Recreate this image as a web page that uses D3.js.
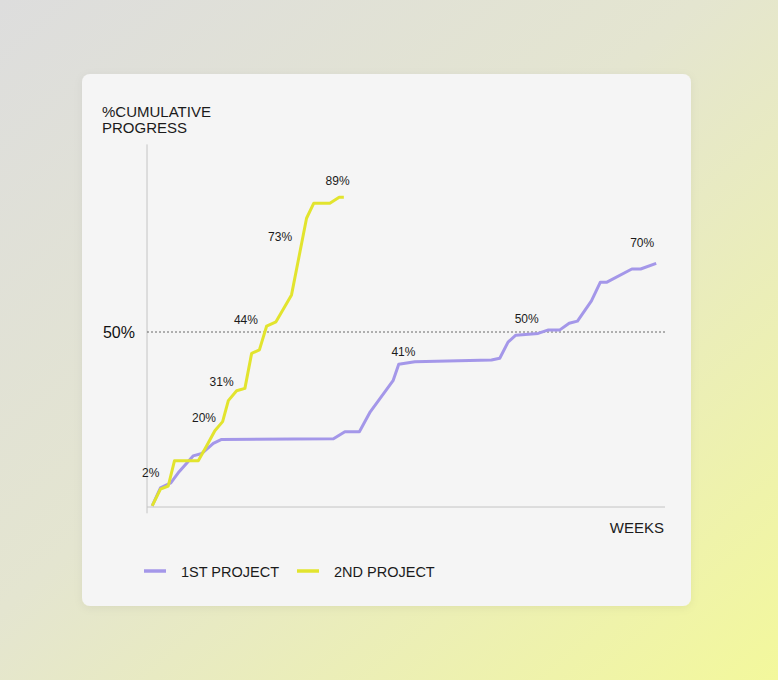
<!DOCTYPE html>
<html>
<head>
<meta charset="utf-8">
<script src="https://cdn.jsdelivr.net/npm/d3@7"></script>
<style>
  html, body { margin: 0; padding: 0; }
  body { width: 778px; height: 680px; overflow: hidden; font-family: "Liberation Sans", Arial, sans-serif; }
  text { fill: #1b1b1b; }
</style>
</head>
<body>
<div id="chart"></div>
<script>
// series: [week, cumulative %]
const project1 = [
  [1.0, 0.3], [2.6, 5.5], [4.6, 6.9], [6.2, 10.1], [8.9, 14.6], [10.6, 15.3],
  [12.8, 18.2], [14.4, 19.3], [36.0, 19.5], [38.2, 21.5], [41.0, 21.5],
  [43.1, 27.2], [47.5, 36.1], [48.6, 40.8], [51.7, 41.5], [66.5, 42.0],
  [68.1, 42.5], [69.7, 47.1], [71.2, 49.1], [75.5, 49.6], [77.5, 50.6],
  [79.7, 50.6], [81.5, 52.5], [83.1, 53.1], [85.8, 58.9], [87.5, 64.2],
  [88.7, 64.2], [93.6, 68.0], [95.3, 68.0], [98.3, 69.6]
];
const project2 = [
  [1.0, 0.3], [2.6, 5.1], [4.1, 6.0], [5.3, 13.2], [9.9, 13.2], [11.5, 17.4],
  [13.1, 21.8], [14.6, 24.4], [15.7, 30.4], [17.3, 33.2], [18.9, 33.9],
  [20.2, 43.9], [21.7, 44.9], [23.1, 51.7], [24.9, 52.9], [27.9, 60.6],
  [30.8, 82.5], [32.2, 86.8], [35.3, 86.8], [37.1, 88.5], [38.0, 88.5]
];
const seriesNames = ["1ST PROJECT", "2ND PROJECT"];
const seriesColors = ["#a497e9", "#e2e42e"];
// annotations: [week, %, text]
const labels1 = [[49.5, 43.1, "41%"], [73.3, 52.5, "50%"], [95.6, 74.2, "70%"]];
const labels2 = [[0.7, 8.6, "2%"], [11.0, 24.4, "20%"], [14.4, 34.7, "31%"],
                 [19.1, 52.3, "44%"], [25.7, 75.9, "73%"], [36.8, 91.9, "89%"]];
const yTicks = [50];

const W = 778, H = 680;
const svg = d3.select("#chart").append("svg")
  .attr("width", W).attr("height", H);

const defs = svg.append("defs");
const bg = defs.append("linearGradient").attr("id", "bg")
  .attr("x1", "0%").attr("y1", "0%").attr("x2", "100%").attr("y2", "100%");
bg.append("stop").attr("offset", "0%").attr("stop-color", "#dddddd");
bg.append("stop").attr("offset", "45%").attr("stop-color", "#e4e5d0");
bg.append("stop").attr("offset", "100%").attr("stop-color", "#f3f89c");
const shadow = defs.append("filter").attr("id", "shadow")
  .attr("x", "-10%").attr("y", "-10%").attr("width", "120%").attr("height", "120%");
shadow.append("feDropShadow").attr("dx", 0).attr("dy", 2).attr("stdDeviation", 4)
  .attr("flood-color", "#000").attr("flood-opacity", 0.06);

svg.append("rect").attr("width", W).attr("height", H).attr("fill", "url(#bg)");

// card
svg.append("rect")
  .attr("x", 82).attr("y", 74).attr("width", 609).attr("height", 532)
  .attr("rx", 8).attr("fill", "#f5f5f5").attr("filter", "url(#shadow)");

const x = d3.scaleLinear().domain([0, 100]).range([147, 665]);
const y = d3.scaleLinear().domain([0, 100]).range([507, 157]);

// axis lines
svg.append("line")
  .attr("x1", x(0)).attr("x2", x(0)).attr("y1", y(-1.8)).attr("y2", y(103.6))
  .attr("stroke", "#c4c4c4").attr("stroke-width", 1);
svg.append("line")
  .attr("x1", x(0)).attr("x2", x(100)).attr("y1", y(0)).attr("y2", y(0))
  .attr("stroke", "#c4c4c4").attr("stroke-width", 1);

// 50% reference line
svg.selectAll(".ref").data(yTicks).enter().append("line")
  .attr("class", "ref")
  .attr("x1", x(0)).attr("x2", x(100))
  .attr("y1", d => y(d)).attr("y2", d => y(d))
  .attr("stroke", "#444").attr("stroke-width", 0.8)
  .attr("stroke-dasharray", "2,2");

const yAxis = svg.append("g")
  .attr("transform", `translate(${x(0)},0)`)
  .call(d3.axisLeft(y).tickValues(yTicks).tickSize(0).tickPadding(12)
    .tickFormat(d => d + "%"));
yAxis.select(".domain").remove();
yAxis.selectAll("text")
  .attr("dy", "0.36em")
  .style("font-family", "'Liberation Sans', Arial, sans-serif")
  .style("font-size", "16px")
  .style("fill", "#111");

// title
const title = svg.append("text")
  .attr("x", 102).attr("y", 117)
  .style("font-size", "15px");
title.append("tspan").attr("x", 102).text("%CUMULATIVE");
title.append("tspan").attr("x", 102).attr("dy", 16).text("PROGRESS");

svg.append("text")
  .attr("x", 664).attr("y", 533).attr("text-anchor", "end")
  .style("font-size", "15px")
  .text("WEEKS");

// lines
const line = d3.line().x(d => x(d[0])).y(d => y(d[1]));
[project1, project2].forEach((s, i) => {
  svg.append("path")
    .datum(s)
    .attr("d", line)
    .attr("fill", "none")
    .attr("stroke", seriesColors[i])
    .attr("stroke-width", 3)
    .attr("stroke-linejoin", "round");
});

// annotations
svg.selectAll(".ann").data(labels1.concat(labels2)).enter().append("text")
  .attr("class", "ann")
  .attr("x", d => x(d[0])).attr("y", d => y(d[1]))
  .attr("text-anchor", "middle")
  .style("font-size", "12px")
  .text(d => d[2]);

// legend
const legend = svg.append("g").attr("transform", "translate(144,571)");
const item = legend.selectAll("g").data(seriesNames).enter().append("g")
  .attr("transform", (d, i) => `translate(${i * 153},0)`);
item.append("line")
  .attr("x1", 0).attr("x2", 22)
  .attr("stroke", (d, i) => seriesColors[i]).attr("stroke-width", 3.5);
item.append("text")
  .attr("x", 37).attr("y", 5.5)
  .style("font-size", "14.5px")
  .text(d => d);
</script>
</body>
</html>
